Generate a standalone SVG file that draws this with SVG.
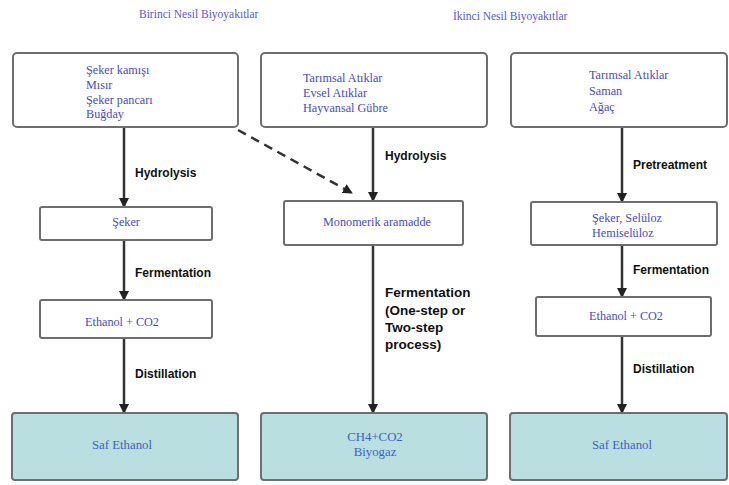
<svg xmlns="http://www.w3.org/2000/svg" width="729" height="485" viewBox="0 0 729 485">
  <style>
    .box { fill: #ffffff; stroke: #6e6e6e; stroke-width: 2; }
    .end { fill: #b9dfe0; stroke: #6e6e6e; stroke-width: 2; }
    .txt { font-family: "Liberation Serif", "Times New Roman", serif; font-size: 12.2px; fill: #4a4ac8; }
    .low { font-size: 12.8px; fill: #3f5fc0; }
    .mid { text-anchor: middle; }
    .title { font-family: "Liberation Serif", "Times New Roman", serif; font-size: 11.5px; fill: #5a5ad0; }
    .step { font-family: "Liberation Sans", Arial, sans-serif; font-size: 12px; font-weight: bold; fill: #111111; }
    .big { font-size: 13.5px; }
    .flow { stroke: #333333; stroke-width: 2.5; fill: none; marker-end: url(#head); }
    .dash { stroke: #333333; stroke-width: 2.5; fill: none; stroke-dasharray: 9 6; marker-end: url(#head); }
  </style>
  <defs>
    <marker id="head" viewBox="0 0 10 10" refX="9" refY="5" markerWidth="4" markerHeight="4" orient="auto" markerUnits="strokeWidth">
      <path d="M0,0 L10,5 L0,10 z" fill="#222222"/>
    </marker>
  </defs>
  <rect width="729" height="485" fill="#ffffff"/>

  <text class="title" x="139" y="18">Birinci Nesil Biyoyakıtlar</text>
  <text class="title" x="453" y="20">İkinci Nesil Biyoyakıtlar</text>

  <g id="connectors">
    <line class="flow" x1="124" y1="128" x2="124" y2="207"/>
    <line class="flow" x1="124" y1="240" x2="124" y2="300"/>
    <line class="flow" x1="124" y1="338" x2="124" y2="413"/>
    <line class="flow" x1="373" y1="127" x2="373" y2="201"/>
    <line class="flow" x1="373" y1="245" x2="373" y2="413"/>
    <line class="flow" x1="622" y1="127" x2="622" y2="202"/>
    <line class="flow" x1="622" y1="245" x2="622" y2="297"/>
    <line class="flow" x1="622" y1="336" x2="622" y2="413"/>
    <line class="dash" x1="238" y1="130" x2="352" y2="193"/>
    <text class="step" x="135" y="177">Hydrolysis</text>
    <text class="step" x="135" y="277">Fermentation</text>
    <text class="step" x="135" y="378">Distillation</text>
    <text class="step" x="385" y="160">Hydrolysis</text>
    <text class="step big" x="385" y="297">Fermentation</text>
    <text class="step big" x="385" y="315">(One-step or</text>
    <text class="step big" x="385" y="332">Two-step</text>
    <text class="step big" x="385" y="349">process)</text>
    <text class="step" x="633" y="169">Pretreatment</text>
    <text class="step" x="633" y="274">Fermentation</text>
    <text class="step" x="633" y="373">Distillation</text>
  </g>

  <g id="kaynak1">
    <rect class="box" x="13" y="53" width="225" height="74" rx="4"/>
    <text class="txt" x="86" y="74">Şeker kamışı</text>
    <text class="txt" x="86" y="89">Mısır</text>
    <text class="txt" x="86" y="104">Şeker pancarı</text>
    <text class="txt" x="86" y="118">Buğday</text>
  </g>
  <g id="kaynak2">
    <rect class="box" x="261" y="53" width="226" height="74" rx="4"/>
    <text class="txt" x="303" y="82">Tarımsal Atıklar</text>
    <text class="txt" x="303" y="97">Evsel Atıklar</text>
    <text class="txt" x="303" y="112">Hayvansal Gübre</text>
  </g>
  <g id="kaynak3">
    <rect class="box" x="511" y="53" width="216" height="74" rx="4"/>
    <text class="txt" x="589" y="79">Tarımsal Atıklar</text>
    <text class="txt" x="589" y="95">Saman</text>
    <text class="txt" x="589" y="111">Ağaç</text>
  </g>

  <g id="seker">
    <rect class="box" x="40" y="207" width="172" height="33" rx="2"/>
    <text class="txt mid" x="126" y="226">Şeker</text>
  </g>
  <g id="monomerik">
    <rect class="box" x="284" y="201" width="179" height="44" rx="2"/>
    <text class="txt mid" x="377" y="226">Monomerik aramadde</text>
  </g>
  <g id="seluloz">
    <rect class="box" x="531" y="202" width="186" height="43" rx="2"/>
    <text class="txt" x="592" y="222">Şeker, Selüloz</text>
    <text class="txt" x="592" y="237">Hemiselüloz</text>
  </g>

  <g id="ethanol1">
    <rect class="box" x="40" y="300" width="172" height="38" rx="2"/>
    <text class="txt mid" x="122" y="326">Ethanol + CO2</text>
  </g>
  <g id="ethanol3">
    <rect class="box" x="536" y="297" width="175" height="39" rx="2"/>
    <text class="txt mid" x="626" y="320">Ethanol + CO2</text>
  </g>

  <g id="saf1">
    <rect class="end" x="12" y="413" width="226" height="67" rx="3"/>
    <text class="txt low mid" x="122" y="449">Saf Ethanol</text>
  </g>
  <g id="biyogaz">
    <rect class="end" x="261" y="413" width="226" height="67" rx="3"/>
    <text class="txt low mid" x="375" y="441">CH4+CO2</text>
    <text class="txt low mid" x="375" y="456">Biyogaz</text>
  </g>
  <g id="saf3">
    <rect class="end" x="510" y="413" width="217" height="67" rx="3"/>
    <text class="txt low mid" x="622" y="449">Saf Ethanol</text>
  </g>
</svg>
